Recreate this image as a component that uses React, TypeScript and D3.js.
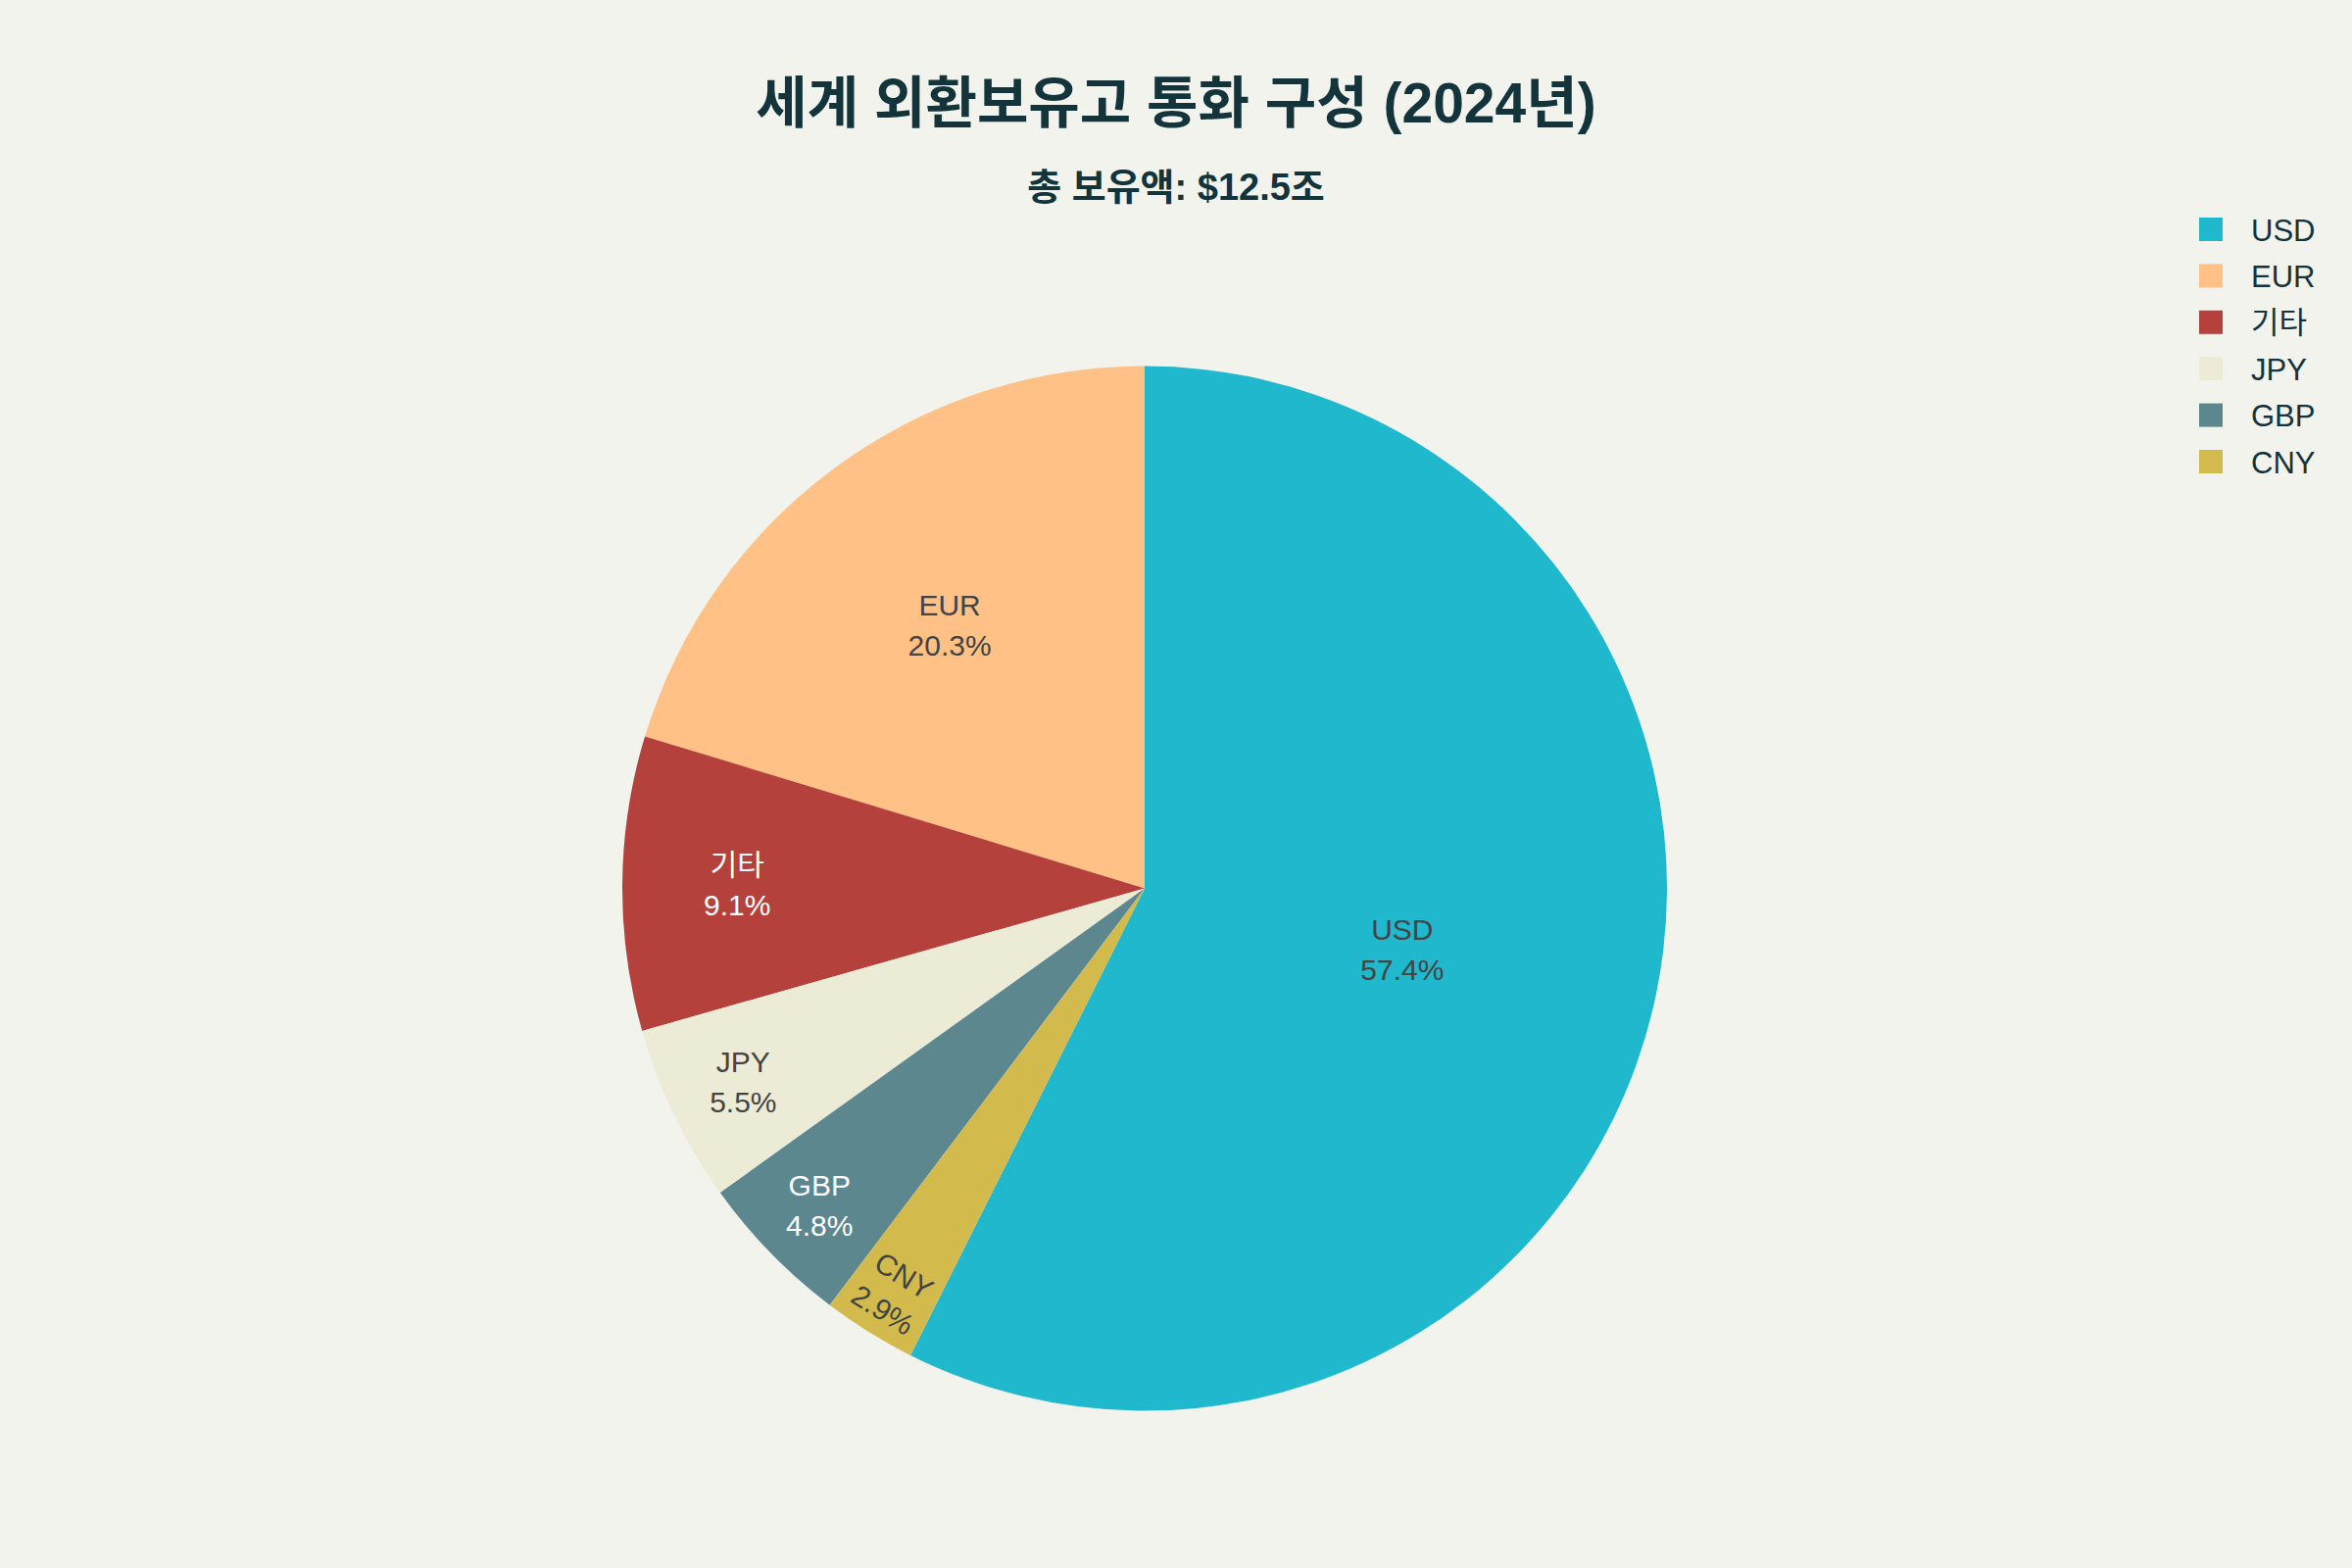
import React from 'react';
import * as d3 from 'd3';

const categories = ['USD', 'EUR', '기타', 'JPY', 'GBP', 'CNY'];
const shares = [57.4, 20.3, 9.1, 5.5, 4.8, 2.9];
const colors = ['#1FB8CD', '#FFC185', '#B4413C', '#ECEBD5', '#5D878F', '#D2BA4C'];
const titleText = '세계 외환보유고 통화 구성 (2024년)';
const subtitleText = '총 보유액: $12.5조';

const W = 2400;
const H = 1600;
const CX = 1168;
const CY = 906.5;
const R = 533;
const FONT = '"Liberation Sans", "Noto Sans CJK KR", sans-serif';
const LABEL_FS = 30;
const LINE = 41;
const BG = '#F3F3EE';
const INK = '#13343B';

let ctx: CanvasRenderingContext2D | null = null;
function measure(text: string, fs: number): number {
  if (!ctx) ctx = document.createElement('canvas').getContext('2d');
  if (!ctx) return text.length * fs * 0.6;
  ctx.font = `${fs}px ${FONT}`;
  return ctx.measureText(text).width;
}

function normRot(deg: number): number {
  let r = deg % 360;
  if (r > 180) r -= 360;
  if (r <= -180) r += 360;
  if (r > 90) r -= 180;
  if (r < -90) r += 180;
  return r;
}

function placeLabel(start: number, end: number, w: number, h: number) {
  const half = Math.abs(end - start) / 2;
  const mid = (start + end) / 2;
  const rIns = Math.min(1 / (1 + 1 / Math.sin(half)), 0.5);
  const diag = Math.hypot(w, h);
  const hScale = (rIns * R * 2) / diag;
  if (hScale >= 1) return { mid, rc: 1 - rIns, rot: 0, scale: 1 };
  const maxHalf = (a: number) => {
    const q = a + 1 / (2 * Math.tan(half));
    return R * Math.min(1 / (Math.sqrt(q * q + 0.5) + q), 1 / (Math.sqrt(a * a + 0.5) + a));
  };
  const cands = [{ mid, rc: 1 - rIns, rot: 0, scale: hScale }];
  let a = h / w;
  let s = maxHalf(a);
  cands.push({ mid, rc: Math.cos(s / R) - (a * s) / R, rot: normRot((mid * 180) / Math.PI), scale: (2 * s) / w });
  a = w / h;
  s = maxHalf(a);
  cands.push({ mid, rc: Math.cos(s / R) - (a * s) / R, rot: normRot((mid * 180) / Math.PI - 90), scale: (2 * s) / h });
  const best = cands.reduce((p, c) => (c.scale > p.scale ? c : p));
  return { ...best, scale: Math.min(1, best.scale) };
}

export default function App() {
  const total = d3.sum(shares);
  const a0 = (2 * Math.PI * shares[0]) / total;
  const pie = d3
    .pie<number>()
    .sort(null)
    .value((d) => d)
    .startAngle(a0)
    .endAngle(a0 - 2 * Math.PI);
  const arcs = pie(shares);
  const arcGen = d3.arc<d3.PieArcDatum<number>>().innerRadius(0).outerRadius(R);

  const legendY = d3.scaleLinear().domain([0, 1]).range([234, 281.4]);

  return (
    <svg
      width={W}
      height={H}
      viewBox={`0 0 ${W} ${H}`}
      style={{ position: 'fixed', left: 0, top: 0, background: BG }}
    >
      <rect x={0} y={0} width={W} height={H} fill={BG} />
      <text x={1200} y={125} textAnchor="middle" fontFamily={FONT} fontWeight="bold" fontSize={57} fill={INK}>
        {titleText}
      </text>
      <text x={1200} y={204} textAnchor="middle" fontFamily={FONT} fontWeight="bold" fontSize={38} fill={INK}>
        {subtitleText}
      </text>
      <g transform={`translate(${CX},${CY})`}>
        {arcs.map((d, i) => (
          <path key={categories[i]} d={arcGen(d) || ''} fill={colors[i]} />
        ))}
      </g>
      {arcs.map((d, i) => {
        const line1 = categories[i];
        const line2 = `${shares[i].toFixed(1)}%`;
        const w = Math.max(measure(line1, LABEL_FS), measure(line2, LABEL_FS));
        const h = LABEL_FS * 1.3 * 2;
        const p = placeLabel(d.startAngle, d.endAngle, w, h);
        const x = CX + p.rc * R * Math.sin(p.mid);
        const y = CY - p.rc * R * Math.cos(p.mid);
        const lab = d3.lab(colors[i]).l;
        const fill = lab < 60 ? '#FFFFFF' : '#444444';
        const cap = LABEL_FS * 0.716;
        return (
          <text
            key={`lab-${categories[i]}`}
            transform={`translate(${x},${y}) rotate(${p.rot}) scale(${p.scale})`}
            textAnchor="middle"
            fontFamily={FONT}
            fontSize={LABEL_FS}
            fill={fill}
          >
            <tspan x={0} y={-LINE / 2 + cap / 2}>{line1}</tspan>
            <tspan x={0} y={LINE / 2 + cap / 2}>{line2}</tspan>
          </text>
        );
      })}
      {categories.map((c, i) => (
        <g key={`leg-${c}`} transform={`translate(0,${legendY(i)})`}>
          <rect x={2244} y={-12} width={24} height={24} fill={colors[i]} />
          <text x={2297} y={11.5} fontFamily={FONT} fontSize={31} fill={INK}>
            {c}
          </text>
        </g>
      ))}
    </svg>
  );
}
